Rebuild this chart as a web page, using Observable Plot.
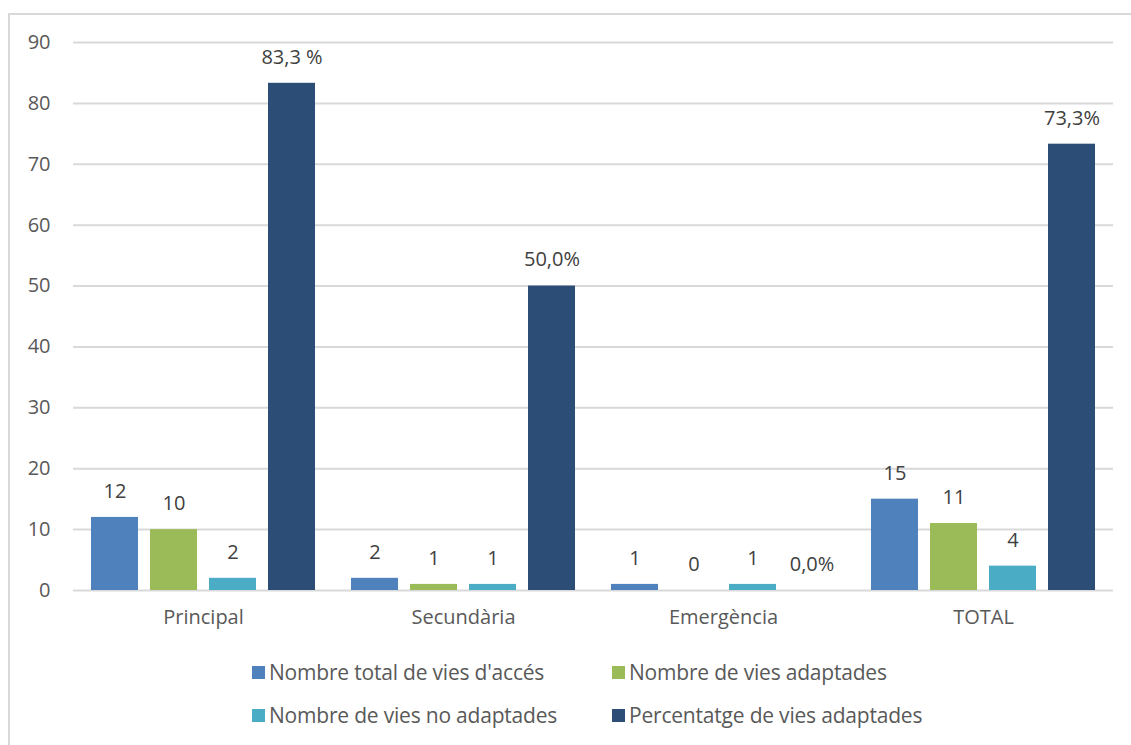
<!DOCTYPE html>
<html>
<head>
<meta charset="utf-8">
<script src="https://cdn.jsdelivr.net/npm/d3@7"></script>
<script src="https://cdn.jsdelivr.net/npm/@observablehq/plot@0.6"></script>
<style>
  html, body { margin: 0; padding: 0; background: #fff; width: 1131px; height: 745px; overflow: hidden; }
  #frame { position: absolute; left: 8px; top: 13px; width: 1200px; height: 800px; border: 2px solid #d9d9d9; box-sizing: border-box; }
  #chart { position: absolute; left: 0; top: 0; }
  #legend { position: absolute; left: 0; top: 0; width: 1131px; font-family: "Open Sans", sans-serif; font-size: 21px; color: #595959; }
  .li { position: absolute; display: flex; align-items: center; white-space: nowrap; letter-spacing: -0.2px; }
  .sw { width: 13px; height: 13px; margin-right: 4px; }
</style>
</head>
<body>
<div id="frame"></div>
<div id="chart"></div>
<div id="legend"></div>
<script>
const categories = ["Principal", "Secundària", "Emergència", "TOTAL"];
const series = ["Nombre total de vies d'accés", "Nombre de vies adaptades", "Nombre de vies no adaptades", "Percentatge de vies adaptades"];
const colors = ["#4F81BD", "#9BBB59", "#4BACC6", "#2C4D75"];
const totalVies = [12, 2, 1, 15];
const viesAdaptades = [10, 1, 0, 11];
const viesNoAdaptades = [2, 1, 1, 4];
const percentatge = [83.3, 50.0, 0.0, 73.3];
const labelsTotal = ["12", "2", "1", "15"];
const labelsAdaptades = ["10", "1", "0", "11"];
const labelsNoAdaptades = ["2", "1", "1", "4"];
const labelsPercent = ["83,3 %", "50,0%", "0,0%", "73,3%"];
const yTicks = [0, 10, 20, 30, 40, 50, 60, 70, 80, 90];

const valueArrays = [totalVies, viesAdaptades, viesNoAdaptades, percentatge];
const labelArrays = [labelsTotal, labelsAdaptades, labelsNoAdaptades, labelsPercent];
const data = [];
categories.forEach((c, i) => {
  series.forEach((s, j) => {
    data.push({cat: c, series: s, value: valueArrays[j][i], label: labelArrays[j][i]});
  });
});

const font = "'Open Sans', sans-serif";
const chart = Plot.plot({
  width: 1131,
  height: 640,
  marginTop: 42,
  marginBottom: 50,
  marginLeft: 73,
  marginRight: 18,
  style: {fontFamily: font, fontSize: "20px", color: "#595959", background: "transparent"},
  fx: {domain: categories, padding: 0, label: null, axis: null},
  x: {domain: series, paddingInner: 0.2, paddingOuter: 0.267, axis: null},
  y: {domain: [0, 90], ticks: yTicks, label: null, axis: null},
  color: {domain: series, range: colors},
  marks: [
    Plot.gridY(yTicks, {stroke: "#d9d9d9", strokeWidth: 2, strokeOpacity: 1, facet: "exclude"}),
    Plot.axisY({ticks: yTicks, tickSize: 0, tickPadding: 23, label: null, fill: "#595959", fontSize: 20}),
    Plot.axisFx({anchor: "bottom", tickSize: 0, tickPadding: 19, label: null, fill: "#595959", fontSize: 20}),
    Plot.barY(data, {fx: "cat", x: "series", y: "value", fill: "series"}),
    Plot.text(data, {fx: "cat", x: "series", y: "value", text: "label", dy: -26, fill: "#404040", fontSize: 20})
  ]
});
document.getElementById("chart").appendChild(chart);

const legendPos = [[252, 673], [612, 673], [252, 716], [612, 716]];
const leg = document.getElementById("legend");
series.forEach((s, j) => {
  const el = document.createElement("div");
  el.className = "li";
  el.style.left = legendPos[j][0] + "px";
  el.style.top = (legendPos[j][1] - 15) + "px";
  el.innerHTML = `<span class="sw" style="background:${colors[j]}"></span><span>${s}</span>`;
  leg.appendChild(el);
});
</script>
</body>
</html>
